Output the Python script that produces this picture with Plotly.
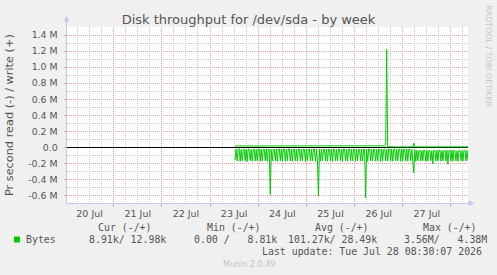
import plotly.graph_objects as go
import pandas as pd

# ---------------- data ----------------
title_text = "Disk throughput for /dev/sda - by week"
y_title = "Pr second read (-) / write (+)"

period_start = "2026-07-20 00:30"
period_end = "2026-07-28 08:30"
data_start = "2026-07-23 12:30"      # first sample, 30-minute samples afterwards

day_label_dates = ["2026-07-20 12:00", "2026-07-21 12:00", "2026-07-22 12:00", "2026-07-23 12:00",
                   "2026-07-24 12:00", "2026-07-25 12:00", "2026-07-26 12:00", "2026-07-27 12:00"]
day_labels = ["20 Jul", "21 Jul", "22 Jul", "23 Jul", "24 Jul", "25 Jul", "26 Jul", "27 Jul"]
midnights = ["2026-07-21", "2026-07-22", "2026-07-23", "2026-07-24",
             "2026-07-25", "2026-07-26", "2026-07-27", "2026-07-28"]
six_hours = ["2026-07-20 06:00", "2026-07-20 12:00", "2026-07-20 18:00",
             "2026-07-21 06:00", "2026-07-21 12:00", "2026-07-21 18:00",
             "2026-07-22 06:00", "2026-07-22 12:00", "2026-07-22 18:00",
             "2026-07-23 06:00", "2026-07-23 12:00", "2026-07-23 18:00",
             "2026-07-24 06:00", "2026-07-24 12:00", "2026-07-24 18:00",
             "2026-07-25 06:00", "2026-07-25 12:00", "2026-07-25 18:00",
             "2026-07-26 06:00", "2026-07-26 12:00", "2026-07-26 18:00",
             "2026-07-27 06:00", "2026-07-27 12:00", "2026-07-27 18:00",
             "2026-07-28 06:00"]

y_tick_values = [-600000, -400000, -200000, 0, 200000, 400000, 600000, 800000,
                 1000000, 1200000, 1400000]
y_tick_labels = ["-0.6 M", "-0.4 M", "-0.2 M", "0.0", "0.2 M", "0.4 M", "0.6 M", "0.8 M",
                 "1.0 M", "1.2 M", "1.4 M"]
y_minor_values = [-500000, -300000, -100000, 100000, 300000, 500000, 700000, 900000,
                  1100000, 1300000, 1500000]

# read rate (kB/s, drawn negative)
read_k = [
    160, 20, 172, 25, 18, 175, 30, 168, 22, 26,
    170, 24, 178, 20, 28, 166, 25, 174, 30, 21,
    172, 26, 169, 18, 24, 176, 22, 171, 27, 25,
    168, 20, 175, 24, 26, 590, 28, 172, 23, 26,
    170, 22, 177, 25, 20, 169, 27, 173, 21, 24,
    175, 26, 168, 19, 25, 171, 23, 176, 28, 22,
    169, 24, 174, 20, 27, 172, 25, 170, 22, 26,
    177, 21, 168, 25, 23, 173, 27, 171, 20, 24,
    176, 25, 169, 610, 26, 174, 22, 170, 28, 23,
    172, 20, 175, 24, 26, 168, 23, 177, 21, 25,
    171, 27, 173, 22, 24, 170, 26, 176, 20, 23,
    169, 25, 174, 28, 21, 172, 24, 170, 26, 22,
    175, 23, 168, 25, 27, 173, 21, 171, 24, 26,
    630, 22, 176, 25, 20, 170, 27, 172, 23, 24,
    174, 26, 169, 21, 25, 177, 22, 171, 28, 24,
    170, 25, 173, 20, 26, 168, 23, 175, 27, 22,
    172, 24, 169, 26, 21, 176, 25, 170, 22, 28,
    174, 23, 171, 25, 24, 168, 27, 173, 320, 30,
    175, 38, 170, 42, 36, 172, 40, 169, 35, 44,
    176, 39, 171, 37, 41, 168, 43, 210, 36, 40,
    173, 38, 170, 44, 35, 175, 41, 169, 37, 42,
    172, 36, 211, 40, 43, 171, 38, 174, 35, 41,
    170, 44, 176, 37, 39, 168, 42, 173, 36, 40,
    171, 38, 169,
]

# write rate (kB/s)
write_k = [
    16, 17, 16, 16, 17, 16, 16, 17, 16, 16,
    17, 16, 16, 17, 16, 16, 17, 16, 16, 17,
    16, 16, 17, 16, 16, 17, 16, 16, 17, 16,
    16, 17, 16, 16, 17, 16, 16, 17, 16, 16,
    17, 16, 16, 17, 16, 16, 17, 16, 16, 17,
    16, 16, 17, 16, 16, 17, 16, 16, 17, 16,
    16, 17, 16, 16, 17, 16, 16, 17, 16, 16,
    17, 16, 16, 17, 16, 16, 17, 16, 16, 17,
    16, 16, 17, 16, 16, 17, 16, 16, 17, 16,
    16, 17, 16, 16, 17, 16, 16, 17, 16, 16,
    17, 16, 16, 17, 16, 16, 17, 16, 16, 17,
    16, 16, 17, 16, 16, 17, 16, 16, 17, 16,
    16, 17, 16, 16, 17, 16, 16, 17, 16, 16,
    17, 16, 16, 17, 16, 16, 17, 16, 16, 17,
    16, 16, 17, 16, 16, 17, 16, 16, 17, 18,
    28, 1220, 6, 5, 4, 5, 5, 4, 5, 5,
    5, 4, 5, 5, 4, 5, 5, 4, 5, 5,
    5, 4, 5, 5, 4, 5, 5, 6, 50, 6,
    5, 4, 5, 5, 4, 5, 5, 4, 5, 5,
    5, 4, 5, 5, 4, 5, 5, 4, 5, 5,
    5, 4, 5, 5, 4, 5, 5, 4, 5, 5,
    5, 4, 5, 5, 4, 5, 5, 4, 5, 5,
    5, 4, 5, 5, 4, 5, 5, 4, 5, 5,
    5, 4, 5,
]

legend_name = "Bytes"
legend_headers = ["Cur (-/+)", "Min (-/+)", "Avg (-/+)", "Max (-/+)"]
legend_values = ["8.91k/ 12.98k", "0.00 /   8.81k", "101.27k/ 28.49k", "3.56M/   4.38M"]
last_update = "Last update: Tue Jul 28 08:30:07 2026"
footer = "Munin 2.0.49"
side_text = "RRDTOOL / TOBI OETIKER"

# ---------------- style ----------------
W, H = 497, 275
GREEN = "#00CC00"
BG = "#F0F0F0"
RED_GRID = "rgb(232,160,160)"
GRAY_GRID = "rgb(200,200,200)"
AXIS_COL = "rgb(200,200,245)"
TXT = "#555555"
SANS = "DejaVu Sans"
MONO = "DejaVu Sans Mono"

L, R, T, B = 66.5, 468.0, 27.0, 203.3


def px(x):
    return x / W


def py(y):
    return 1 - y / H


times = pd.date_range(data_start, periods=len(read_k), freq="30min")

fig = go.Figure()
fig.add_trace(go.Scatter(x=times, y=[-v * 1000 for v in read_k], mode="lines",
                         line=dict(color=GREEN, width=1), showlegend=False, hoverinfo="skip"))
fig.add_trace(go.Scatter(x=times, y=[v * 1000 for v in write_k], mode="lines",
                         line=dict(color=GREEN, width=1), showlegend=False, hoverinfo="skip",
                         xaxis="x2"))

fig.update_layout(
    width=W, height=H,
    margin=dict(l=0, r=0, t=0, b=0),
    paper_bgcolor=BG, plot_bgcolor="white",
    font=dict(family=SANS, color=TXT, size=9.5),
    showlegend=False,
    title=dict(text=title_text, x=0.5, xanchor="center", y=py(19), yanchor="middle",
               font=dict(family=SANS, size=13, color=TXT)),
    xaxis=dict(
        type="date", domain=[px(L), px(R)], range=[period_start, period_end],
        tickmode="array", tickvals=midnights, showticklabels=False,
        showgrid=True, gridcolor=RED_GRID, griddash="1px,1px", gridwidth=1,
        ticks="outside", ticklen=3, tickcolor=RED_GRID,
        minor=dict(tickmode="array", tickvals=six_hours, showgrid=True,
                   gridcolor=GRAY_GRID, griddash="1px,1px", gridwidth=1, ticks=""),
        showline=True, linecolor=AXIS_COL, linewidth=1, zeroline=False, anchor="y",
    ),
    xaxis2=dict(
        type="date", overlaying="x", anchor="y", side="bottom", range=[period_start, period_end],
        tickmode="array", tickvals=day_label_dates, ticktext=day_labels,
        showgrid=False, showline=False, zeroline=False, ticks="",
        tickfont=dict(family=SANS, size=9.5, color=TXT), ticklabelstandoff=3,
    ),
    yaxis=dict(
        domain=[py(B), py(T)], range=[-700000, 1502000],
        tickmode="array", tickvals=y_tick_values, ticktext=y_tick_labels,
        tickfont=dict(family=SANS, size=9.4, color=TXT),
        showgrid=True, gridcolor=RED_GRID, griddash="1px,1px", gridwidth=1,
        ticks="outside", ticklen=2, tickcolor=RED_GRID, ticklabelstandoff=4,
        minor=dict(tickmode="array", tickvals=y_minor_values, showgrid=True,
                   gridcolor=GRAY_GRID, griddash="1px,1px", gridwidth=1, ticks=""),
        zeroline=True, zerolinecolor="black", zerolinewidth=1,
        showline=True, linecolor=AXIS_COL, linewidth=1,
        title=dict(text=y_title, font=dict(family=SANS, size=11.3, color=TXT), standoff=12),
    ),
)

shapes = []
# axis arrows
shapes.append(dict(type="line", xref="paper", yref="paper", x0=px(L), x1=px(L), y0=py(T), y1=py(19),
                   line=dict(color=AXIS_COL, width=1)))
shapes.append(dict(type="path", xref="paper", yref="paper",
                   path=f"M {px(L-3)} {py(21.5)} L {px(L+3)} {py(21.5)} L {px(L)} {py(15.5)} Z",
                   fillcolor=AXIS_COL, line=dict(width=0)))
shapes.append(dict(type="line", xref="paper", yref="paper", x0=px(R), x1=px(469.5), y0=py(B), y1=py(B),
                   line=dict(color=AXIS_COL, width=1)))
shapes.append(dict(type="path", xref="paper", yref="paper",
                   path=f"M {px(468.5)} {py(B-3)} L {px(468.5)} {py(B+3)} L {px(474.5)} {py(B)} Z",
                   fillcolor=AXIS_COL, line=dict(width=0)))
# legend swatch
shapes.append(dict(type="rect", xref="paper", yref="paper", x0=px(14), x1=px(20), y0=py(242.5), y1=py(236.5),
                   fillcolor=GREEN, line=dict(width=0)))
fig.update_layout(shapes=shapes)

ann = []


def text(x, y, s, size, color, family=MONO, anchor="left", angle=0):
    ann.append(dict(x=px(x), y=py(y), xref="paper", yref="paper", text=s, showarrow=False,
                    xanchor=anchor, yanchor="middle", textangle=angle, borderpad=0, borderwidth=0,
                    font=dict(family=family, size=size, color=color)))


text(26.3, 239.5, legend_name, 9.9, TXT)
for x, s in zip([98.3, 206.7, 315.0, 422.7], legend_headers):
    text(x, 227.7, s, 9.9, TXT)
for x, s in zip([89.3, 194.3, 287.7, 404.3], legend_values):
    text(x, 239.5, s, 9.9, TXT)
text(261.7, 251.0, last_update, 9.9, TXT)
text(248.7, 264.0, footer, 8, "#C4C4C4", family=SANS, anchor="center")
text(487.7, 56.0, side_text, 7.9, "#C4C4C4", family=SANS, anchor="center", angle=90)
fig.update_layout(annotations=ann)

fig.write_html("out.html")
